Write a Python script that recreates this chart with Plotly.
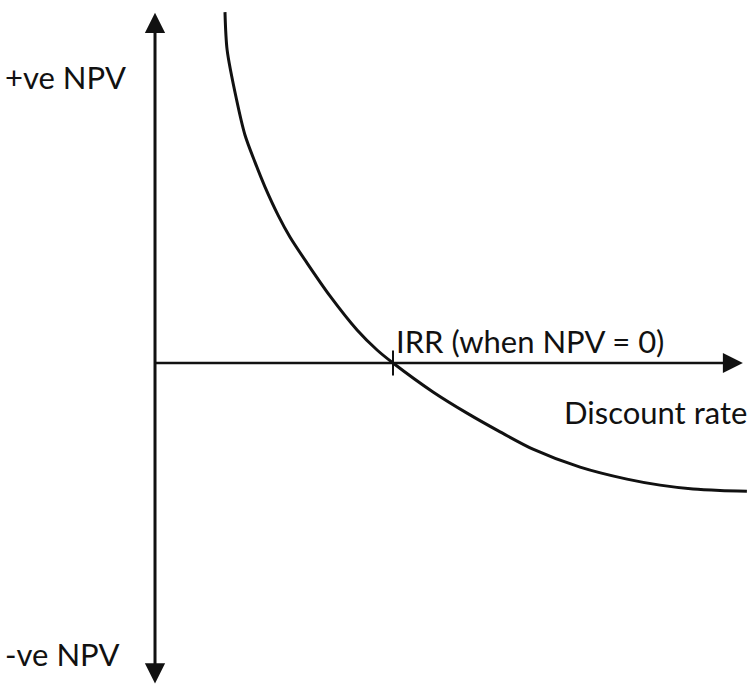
import plotly.graph_objects as go

# Curve: discount rate (%) vs NPV (arbitrary units)
rate = [2.94, 3.03, 3.43, 3.78, 4.20, 4.62, 5.17, 5.67, 6.39, 7.35, 8.49, 9.33, 10.0,
        11.68, 13.11, 14.50, 15.88, 17.86, 19.83, 21.22, 22.61, 23.74, 24.87]
npv = [99.4, 88.7, 74.5, 64.6, 56.9, 49.9, 41.9, 35.7, 28.3, 19.0, 9.35, 3.68, 0.0,
       -8.2, -14.2, -19.5, -24.4, -29.5, -32.9, -34.6, -35.7, -36.1, -36.3]

irr_rate = [10.0]
irr_npv = [0.0]

axis_top = 99.2
axis_bottom = -91.2
axis_right = 24.7

x_range = [-6.513, 24.958]
y_range = [-91.22, 102.83]

font_family = "Lato, 'Open Sans', sans-serif"

fig = go.Figure()
fig.add_trace(go.Scatter(x=rate, y=npv, mode="lines",
                         line=dict(color="#111111", width=3, shape="spline", smoothing=0.8),
                         hoverinfo="skip", showlegend=False))
fig.add_trace(go.Scatter(x=irr_rate, y=irr_npv, mode="markers",
                         marker=dict(symbol="line-ns", size=18,
                                     line=dict(color="#111111", width=2)),
                         hoverinfo="skip", showlegend=False))

arrow_common = dict(xref="x", yref="y", axref="x", ayref="y", text="",
                    showarrow=True, arrowhead=2, arrowsize=1.35, arrowwidth=3,
                    arrowcolor="#111111", standoff=0, startstandoff=0)
# vertical NPV axis, arrow at both ends
fig.add_annotation(x=0, y=axis_top, ax=0, ay=axis_bottom, arrowside="end+start",
                   startarrowhead=2, startarrowsize=1.35, **arrow_common)
# horizontal discount-rate axis
fig.add_annotation(x=axis_right, y=0, ax=-0.06, ay=0,
                   **{**arrow_common, "arrowwidth": 2.5, "arrowsize": 1.6})

txt = dict(showarrow=False, xref="x", yref="y",
           font=dict(family=font_family, size=31, color="#111111"))
fig.add_annotation(x=-6.40, y=80.9, text="+ve NPV", xanchor="left", yanchor="middle", **txt)
fig.add_annotation(x=-6.40, y=-82.4, text="-ve NPV", xanchor="left", yanchor="middle", **txt)
fig.add_annotation(x=10.05, y=6.3, text="IRR (when NPV = 0)", xanchor="left", yanchor="middle", **txt)
fig.add_annotation(x=24.95, y=-13.9, text="Discount rate", xanchor="right", yanchor="middle", **txt)

fig.update_layout(width=749, height=685, margin=dict(l=0, r=0, t=0, b=0),
                  paper_bgcolor="white", plot_bgcolor="white",
                  xaxis=dict(range=x_range, visible=False, fixedrange=True),
                  yaxis=dict(range=y_range, visible=False, fixedrange=True))

fig.write_html("out.html", config={"displayModeBar": False},
               post_script="document.body.style.margin='0';document.body.style.overflow='hidden';")
